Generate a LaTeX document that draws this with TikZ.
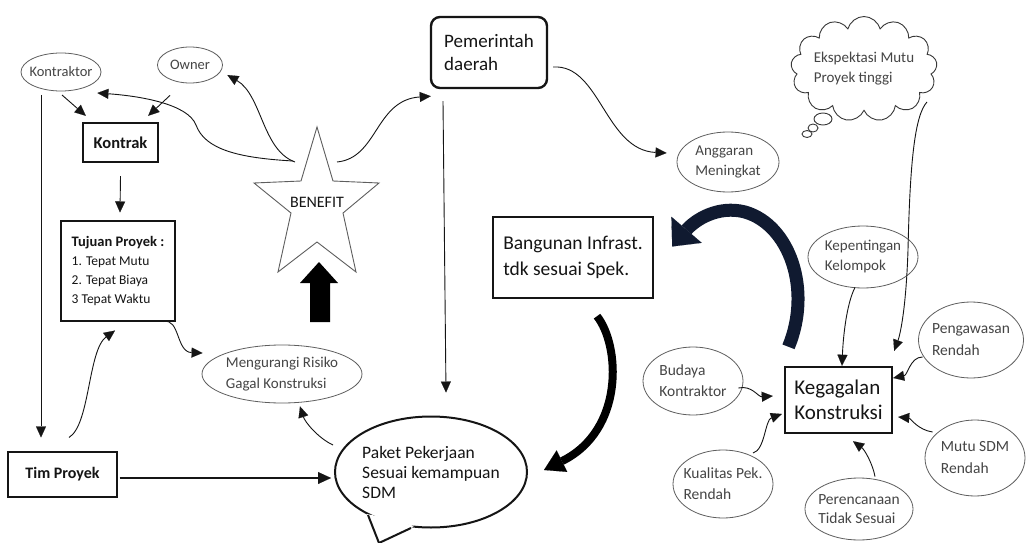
\documentclass[tikz,border=0pt]{standalone}
\usepackage{fontspec}
\setmainfont{Carlito}
\usetikzlibrary{shapes.geometric,shapes.symbols,arrows.meta}
\definecolor{ovalgray}{HTML}{5E5E5E}
\definecolor{txtgray}{HTML}{454545}
\definecolor{navyarrow}{HTML}{101A30}
\definecolor{ink}{HTML}{151515}
\begin{document}
\begin{tikzpicture}[x=1pt,y=-1pt,
  every node/.style={inner sep=0pt,text=ink},
  oval/.style={ellipse,draw=ovalgray,line width=0.8pt,inner sep=-8pt,text=txtgray,
    font=\fontsize{15.5}{21}\selectfont,align=left},
  thickbox/.style={draw=ink,line width=2.4pt,align=left},
  thinbox/.style={draw=ink,line width=1.1pt,align=left},
  conn/.style={draw=ink,line width=0.9pt,-{Triangle[length=11pt,width=10pt,line width=0.1pt]}},
]
\useasboundingbox (0,0) rectangle (1026,543);
\fill[white] (0,0) rectangle (1026,543);

% ---------- nodes ----------
\node[oval,minimum width=80,minimum height=38,font=\fontsize{14.5}{18}\selectfont] (kontraktor) at (61,72) {Kontraktor};
\node[oval,minimum width=65,minimum height=36,font=\fontsize{14.5}{18}\selectfont] (owner) at (190,65) {Owner};
\node[thickbox,minimum width=75,minimum height=39,font=\bfseries\fontsize{16.5}{19}\selectfont] (kontrak) at (120.5,142.5) {Kontrak};
\node[thinbox,minimum width=114,minimum height=100,font=\fontsize{13.5}{19}\selectfont] (tujuan) at (118,271)
  {{\bfseries\fontsize{14.5}{19}\selectfont Tujuan Proyek :}\\1. Tepat Mutu\\2. Tepat Biaya\\3 Tepat Waktu};
\node[thinbox,minimum width=109,minimum height=45,font=\bfseries\fontsize{16}{19}\selectfont] (timproyek) at (62.5,474.5) {Tim Proyek};
\node[oval,minimum width=160,minimum height=58,font=\fontsize{15}{21.5}\selectfont] (mengurangi) at (282,374) {Mengurangi Risiko\\Gagal Konstruksi};
\node[ellipse,draw=ink,line width=2pt,minimum width=192,minimum height=111,inner sep=-10pt,align=left,
  font=\fontsize{17.5}{20}\selectfont] (paket) at (431,472) {Paket Pekerjaan\\Sesuai kemampuan\\SDM};
\node[thickbox,rounded corners=9pt,minimum width=116,minimum height=71,font=\fontsize{19}{23}\selectfont] (pemerintah) at (489,52.5) {Pemerintah\\daerah};
\node[thickbox,minimum width=160,minimum height=81,font=\fontsize{19.5}{26}\selectfont] (bangunan) at (573,257.5) {Bangunan Infrast.\\tdk sesuai Spek.};
\node[oval,minimum width=102,minimum height=60,font=\fontsize{15}{20}\selectfont] (anggaran) at (728,162) {Anggaran\\Meningkat};
\node[cloud,cloud puffs=13,cloud ignores aspect,draw=ink!85,line width=0.9pt,minimum width=142,minimum height=105,
  align=left,text=txtgray,font=\fontsize{15}{20}\selectfont] (ekspektasi) at (864,69) {Ekspektasi Mutu\\Proyek tinggi};
\node[oval,minimum width=110,minimum height=62,font=\fontsize{15}{20}\selectfont] (kepentingan) at (863,257) {Kepentingan\\Kelompok};
\node[thickbox,minimum width=107,minimum height=66,font=\fontsize{21}{25}\selectfont] (kegagalan) at (838.5,400) {Kegagalan\\Konstruksi};
\node[oval,minimum width=100,minimum height=68] (budaya) at (693,381) {Budaya\\Kontraktor};
\node[oval,minimum width=100,minimum height=68] (kualitas) at (723,484) {Kualitas Pek.\\Rendah};
\node[oval,minimum width=108,minimum height=62,font=\fontsize{15.5}{19}\selectfont] (perencanaan) at (859,509) {Perencanaan\\Tidak Sesuai};
\node[oval,minimum width=100,minimum height=76,font=\fontsize{15.5}{22}\selectfont] (mutu) at (975,458) {Mutu SDM\\Rendah};
\node[oval,minimum width=105,minimum height=76,font=\fontsize{15.5}{22}\selectfont] (pengawasan) at (971,340) {Pengawasan\\Rendah};

% thought bubbles of the cloud
\draw[ink!85,line width=0.9pt] (823,119) ellipse [x radius=9, y radius=6];
\draw[ink!85,line width=0.9pt] (813,128) ellipse [x radius=5, y radius=4];
\draw[ink!85,line width=0.9pt] (807,134) ellipse [x radius=5, y radius=3.5];

% speech bubble tail of paket
\fill[white] (367,514) -- (379,546) -- (414,526) -- (395,520) -- cycle;
\draw[ink,line width=2pt,line join=round] (368,515) -- (379,543) -- (411,528);

% star BENEFIT
\draw[ovalgray,line width=0.9pt,line join=miter] (317,127) -- (333,181) -- (379,183) -- (343,213) -- (356,272)
  -- (317,242) -- (278,272) -- (291,213) -- (254,183) -- (301,181) -- cycle;
\node[font=\fontsize{16}{19}\selectfont] (benefit) at (317,202) {BENEFIT};

% big up arrow
\fill[black] (310,322) -- (310,283) -- (300,283) -- (319,262) -- (338,283) -- (330,283) -- (330,322) -- cycle;

% ---------- connectors ----------
\draw[conn] ([shift={(1,23)}]kontraktor.center) -- ([shift={(4,-6)}]kontrak.north west);
\draw[conn] ([shift={(-20,12)}]owner.south) -- ([shift={(-11,-6)}]kontrak.north east);
\draw[conn] ([shift={(0,13)}]kontrak.south) -- ([shift={(2,-8)}]tujuan.north);
\draw[conn] ([shift={(-20,23)}]kontraktor.center) -- ([shift={(-21.5,-14)}]timproyek.north);
\draw[draw=ink,line width=2.6pt,-{Triangle[length=13pt,width=12pt,line width=0.1pt]}]
  ([shift={(2,3.5)}]timproyek.east) -- ([shift={(-3,6)}]paket.west);
\draw[conn] ([shift={(6.5,-14)}]timproyek.north) .. controls (90,425) and (88,350) .. ([shift={(-3,9)}]tujuan.south);
\draw[conn] ([shift={(-12,0)}]tujuan.south east) .. controls (180,318) and (176,352) .. ([shift={(1,-21)}]mengurangi.west);
\draw[conn] ([shift={(-1,-27)}]paket.west) .. controls (318,438) and (305,422) .. ([shift={(18,3)}]mengurangi.south);
\draw[conn] ([shift={(-46,12)}]pemerintah.south) -- ([shift={(15,-23)}]paket.north);
\draw[conn] ([shift={(5,14.5)}]pemerintah.east) .. controls (600,64) and (605,150) .. ([shift={(-10,-9)}]anggaran.west);
\draw[conn] ([shift={(-24,-41)}]benefit.center) .. controls (240,158) and (205,150) .. (196,125)
  .. controls (188,104) and (140,96) .. ([shift={(-4,21)}]kontraktor.east);
\draw[conn] ([shift={(-22,-40)}]benefit.center) .. controls (262,150) and (262,95) .. ([shift={(4.5,10)}]owner.east);
\draw[conn] ([shift={(20,-40)}]benefit.center) .. controls (378,158) and (375,100) .. ([shift={(1,7)}]pemerintah.south west);
\draw[conn] ([shift={(63,33)}]ekspektasi.center) .. controls (915,115) and (910,160) .. (908,250)
  .. controls (906,310) and (900,335) .. ([shift={(1,-15)}]kegagalan.north east);
\draw[conn] ([shift={(-8,-1)}]kepentingan.south) .. controls (846,305) and (843,340) .. ([shift={(3.5,0)}]kegagalan.north);
\draw[conn] ([shift={(-5,7)}]budaya.east) .. controls (752,385) and (758,397) .. ([shift={(-11,-4)}]kegagalan.west);
\draw[conn] ([shift={(30,-31)}]kualitas.center) .. controls (765,450) and (765,420) .. ([shift={(-2,14)}]kegagalan.west);
\draw[conn] ([shift={(16,-1)}]perencanaan.north) .. controls (873,465) and (865,450) .. ([shift={(14.5,7)}]kegagalan.south);
\draw[conn] ([shift={(8,-26)}]mutu.west) .. controls (918,430) and (910,418) .. ([shift={(5,17)}]kegagalan.east);
\draw[conn] ([shift={(4.5,17)}]pengawasan.west) .. controls (910,357) and (908,375) .. ([shift={(0,-22)}]kegagalan.east);

% big curved arrows
\draw[navyarrow,line width=13pt,-{Triangle[length=22pt,width=40pt,line width=0.1pt]}]
  ([shift={(-50,-19)}]kegagalan.north) .. controls (812,290) and (790,225) .. (745,212)
  .. controls (718,205) and (695,220) .. ([shift={(18,-11)}]bangunan.east);
\draw[black,line width=8pt,-{Triangle[length=20pt,width=24pt,line width=0.1pt]}]
  ([shift={(24,17)}]bangunan.south) .. controls (620,345) and (625,430) .. ([shift={(16,-2)}]paket.east);
\end{tikzpicture}
\end{document}
